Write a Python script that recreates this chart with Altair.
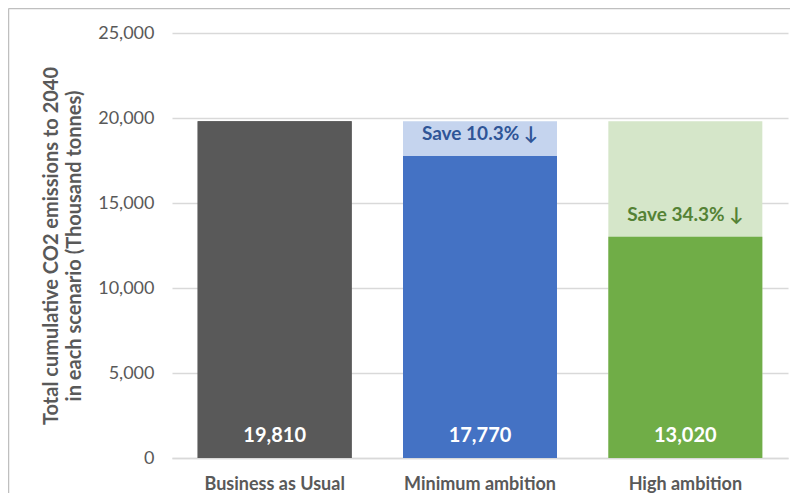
import altair as alt
import pandas as pd

scenarios = ["Business as Usual", "Minimum ambition", "High ambition"]
values = [19810, 17770, 13020]
baseline = [19810, 19810, 19810]
value_labels = ["19,810", "17,770", "13,020"]
save_labels = ["", "Save 10.3% \u2193", "Save 34.3% \u2193"]
dark_colors = ["#595959", "#4472C4", "#70AD47"]
light_colors = ["#595959", "#C5D4EE", "#D5E6C9"]
y_ticks = [0, 5000, 10000, 15000, 20000, 25000]

FONT = "Lato"

df = pd.DataFrame({
    "scenario": scenarios,
    "value": values,
    "baseline": baseline,
    "vlabel": value_labels,
    "save": save_labels,
    "zero": [0, 0, 0],
})

x_enc = alt.X(
    "scenario:N",
    sort=scenarios,
    title=None,
    scale=alt.Scale(paddingInner=0.25, paddingOuter=0.125),
    axis=alt.Axis(labelAngle=0, labelFontSize=18, labelFontWeight="bold",
                  labelColor="#595959", labelFont=FONT, labelPadding=17,
                  domainColor="#D9D9D9", domainWidth=1.5, ticks=False),
)
y_scale = alt.Scale(domain=[0, 25000], nice=False)
y_axis = alt.Axis(values=y_ticks, format=",.0f", grid=True, gridColor="#D9D9D9",
                  gridWidth=1.5, domain=False, ticks=False, labelFontSize=18,
                  labelColor="#595959", labelFont=FONT, labelPadding=18,
                  title=["Total cumulative CO2 emissions to 2040",
                         "in each scenario (Thousand tonnes)"],
                  titleFontSize=20, titleFontWeight="bold", titleColor="#595959",
                  titleFont=FONT, titlePadding=13, titleLineHeight=23)


def yq(field):
    return alt.Y(field, type="quantitative", scale=y_scale, axis=y_axis)


base = alt.Chart(df)

bg = base.mark_bar().encode(
    x=x_enc,
    y=yq("baseline"),
    color=alt.Color("scenario:N", scale=alt.Scale(domain=scenarios, range=light_colors), legend=None),
)

fg = base.mark_bar().encode(
    x=x_enc,
    y=yq("value"),
    color=alt.Color("scenario:N", scale=alt.Scale(domain=scenarios, range=dark_colors), legend=None),
)

vlab = base.mark_text(color="white", fontWeight="bold", fontSize=20, font=FONT, dy=-22).encode(
    x=x_enc,
    y=yq("zero"),
    text="vlabel:N",
)

save_min = base.transform_filter(alt.datum.scenario == "Minimum ambition").mark_text(
    fontWeight="bold", fontSize=19, font=FONT, dy=13, color="#2F5597"
).encode(
    x=x_enc,
    y=yq("baseline"),
    text="save:N",
)

save_high = base.transform_filter(alt.datum.scenario == "High ambition").mark_text(
    fontWeight="bold", fontSize=19, font=FONT, dy=-22, color="#548235"
).encode(
    x=x_enc,
    y=yq("value"),
    text="save:N",
)

frame_df = pd.DataFrame({"k": [0]})
top_border = alt.Chart(frame_df).mark_rule(color="#BFBFBF", strokeWidth=1.5).encode(
    x=alt.value(-163.5), x2=alt.value(640), y=alt.value(-24.5)
)
left_border = alt.Chart(frame_df).mark_rule(color="#BFBFBF", strokeWidth=1.5).encode(
    x=alt.value(-163.5), y=alt.value(-24.5), y2=alt.value(480)
)

chart = alt.layer(bg, fg, vlab, save_min, save_high, top_border, left_border).resolve_scale(
    color="independent"
).properties(
    width=616, height=425,
    background="white",
    autosize=alt.AutoSizeParams(type="none"),
    padding={"left": 164, "top": 25, "right": 2, "bottom": 35},
).configure_view(stroke="transparent", strokeWidth=0)

chart.save("out.html", embed_options={"renderer": "svg", "actions": False})
